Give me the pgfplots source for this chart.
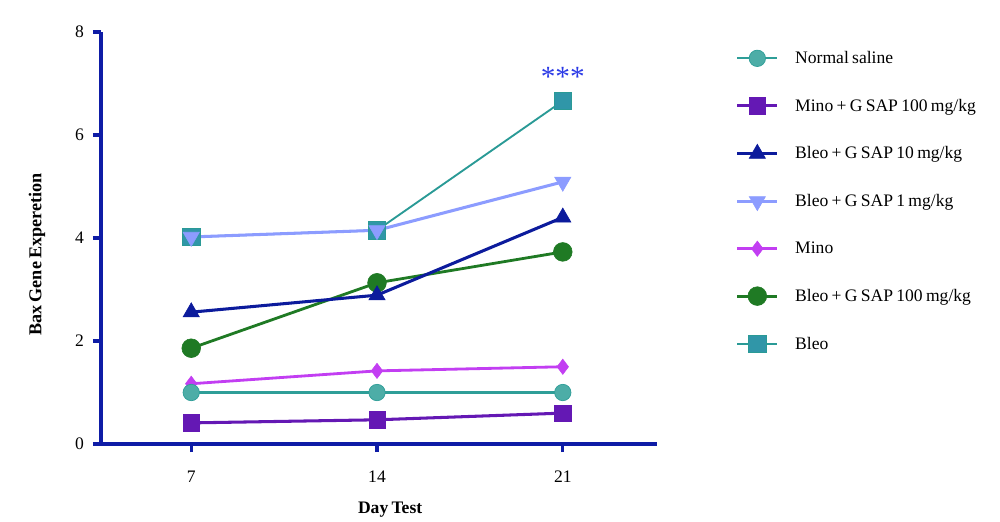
\documentclass[border=0pt]{standalone}
\usepackage{pgfplots}
\pgfplotsset{compat=1.18}
\usepackage{fontspec}
\setmainfont{Liberation Serif}[WordSpace=0.75]

\definecolor{axisblue}{HTML}{0E1CA6}
\definecolor{cSaline}{HTML}{2E9E98}
\definecolor{cMinoG}{HTML}{6418B4}
\definecolor{cBleoTen}{HTML}{0C1B9C}
\definecolor{cBleoOne}{HTML}{8C9CFF}
\definecolor{cMino}{HTML}{C23EF2}
\definecolor{cBleoHund}{HTML}{1F7A24}
\definecolor{cBleo}{HTML}{2A9A96}
\definecolor{cBleoMark}{HTML}{3096A8}
\definecolor{starblue}{HTML}{2B3AE6}

\begin{document}
\begin{tikzpicture}[x=1cm,y=1cm]
\begin{axis}[
  scale only axis,
  at={(3.03cm,2.31cm)}, anchor=south west,
  width=16.68cm, height=12.36cm,
  xmin=3.6, xmax=24.55, ymin=0, ymax=8,
  axis x line*=bottom, axis y line*=left,
  axis line style={axisblue, line width=2.6pt, -},
  xtick={7,14,21}, ytick={0,2,4,6,8},
  tick align=outside,
  major tick length=0.24cm,
  tick style={axisblue, line width=2.6pt},
  /pgf/number format/assume math mode=true,
  ticklabel style={font=\fontsize{15}{17}\selectfont},
  xticklabel style={yshift=-0.45cm},
  yticklabel style={xshift=-0.15cm},
  xlabel={Day Test},
  ylabel={Bax Gene Experetion},
  xlabel style={font=\fontsize{15}{17}\selectfont\bfseries, at={(axis description cs:0.52,-0.16)}, anchor=center},
  ylabel style={font=\fontsize{15.5}{17}\selectfont\bfseries, at={(axis description cs:-0.115,0.46)}, anchor=center, rotate=0},
  clip=false,
  reverse legend,
  legend style={draw=none, fill=none, at={(axis description cs:1.135,0.965)}, anchor=north west,
    font=\fontsize{15}{17}\selectfont, row sep=0.87cm,
    legend cell align=left,
    /tikz/every odd column/.append style={column sep=0.42cm}},
  legend image code/.code={\draw[mark repeat=2,mark phase=2,#1] plot coordinates {(0cm,0cm)(0.6cm,0cm)(1.2cm,0cm)};},
]
% drawn from last to first so that the control group lies on top
\addplot[cBleo, line width=1.6pt, mark=square*, mark size=7.5pt,
  mark options={fill=cBleoMark, draw=cBleo, line width=0.8pt}]
  coordinates {(7,4.02) (14,4.15) (21,6.66)};
\addlegendentry{Bleo}
\addplot[cBleoHund, line width=2.4pt, mark=*, mark size=8pt,
  mark options={fill=cBleoHund, draw=cBleoHund, line width=0.5pt}]
  coordinates {(7,1.86) (14,3.13) (21,3.73)};
\addlegendentry{Bleo + G SAP 100 mg/kg}
\addplot[cMino, line width=2.4pt, mark=diamond*, mark size=6.5pt,
  mark options={fill=cMino, draw=cMino, line width=0.5pt}]
  coordinates {(7,1.17) (14,1.42) (21,1.50)};
\addlegendentry{Mino}
\addplot[cBleoOne, line width=2.6pt, mark=triangle*, mark size=8pt,
  mark options={fill=cBleoOne, draw=cBleoOne, rotate=180, line width=0.5pt}]
  coordinates {(7,4.02) (14,4.15) (21,5.09)};
\addlegendentry{Bleo + G SAP 1 mg/kg}
\addplot[cBleoTen, line width=2.6pt, mark=triangle*, mark size=8pt,
  mark options={fill=cBleoTen, draw=cBleoTen, line width=0.5pt}]
  coordinates {(7,2.56) (14,2.89) (21,4.40)};
\addlegendentry{Bleo + G SAP 10 mg/kg}
\addplot[cMinoG, line width=2.6pt, mark=square*, mark size=7pt,
  mark options={fill=cMinoG, draw=cMinoG, line width=0.5pt}]
  coordinates {(7,0.41) (14,0.47) (21,0.60)};
\addlegendentry{Mino + G SAP 100 mg/kg}
\addplot[cSaline, line width=1.8pt, mark=*, mark size=7pt,
  mark options={fill=cSaline!85!white, draw=cSaline, line width=0.6pt}]
  coordinates {(7,1.00) (14,1.00) (21,1.00)};
\addlegendentry{Normal saline}

\node[starblue, font=\fontsize{25}{25}\selectfont] at (axis cs:21,7.12) {***};
\end{axis}
\pgfresetboundingbox
\path[use as bounding box] (0,0) rectangle (30cm,15.63cm);
\end{tikzpicture}
\end{document}
